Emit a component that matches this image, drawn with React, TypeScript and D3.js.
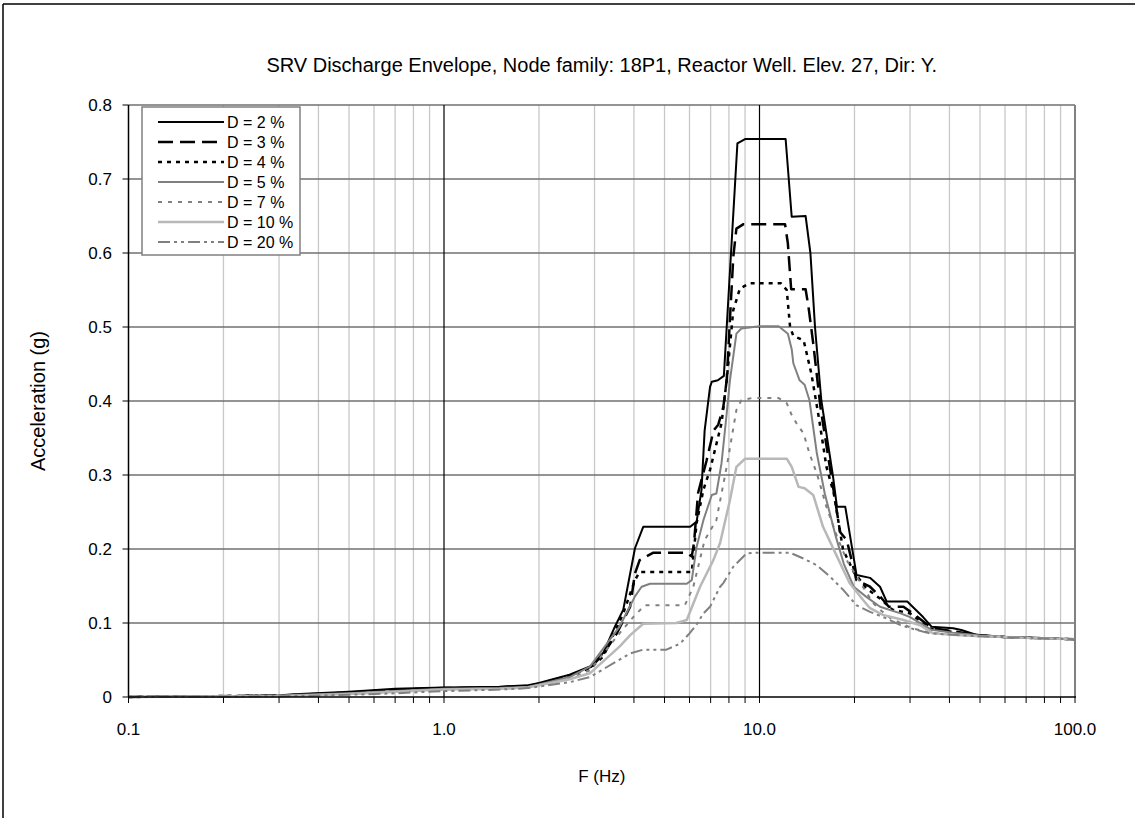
import React from "react";
import * as d3 from "d3";

type Pt = [number, number];

const titleText = "SRV Discharge Envelope, Node family: 18P1, Reactor Well. Elev. 27, Dir: Y.";
const xLabel = "F (Hz)";
const yLabel = "Acceleration (g)";
const xTickLabels: [number, string][] = [[0.1, "0.1"], [1, "1.0"], [10, "10.0"], [100, "100.0"]];
const yTicks = [0, 0.1, 0.2, 0.3, 0.4, 0.5, 0.6, 0.7, 0.8];

const d2: Pt[] = [[0.1,0],[0.2,0.001],[0.3,0.002],[0.35,0.004],[0.5,0.007],[0.7,0.011],[1.0,0.013],[1.5,0.014],[1.85,0.016],[2.0,0.019],[2.5,0.03],[2.93,0.042],[3.2,0.06],[3.48,0.095],[3.7,0.118],[4.03,0.201],[4.28,0.230],[6.03,0.230],[6.32,0.237],[6.55,0.28],[6.7,0.36],[6.97,0.419],[7.06,0.426],[7.38,0.428],[7.71,0.434],[8.51,0.748],[9.0,0.754],[12.1,0.754],[12.65,0.649],[14.0,0.65],[14.5,0.60],[15.0,0.499],[15.7,0.401],[17.1,0.298],[17.6,0.257],[18.7,0.257],[20.3,0.165],[22.4,0.161],[24.1,0.149],[25.3,0.129],[29.4,0.129],[33.0,0.108],[35.1,0.095],[41.1,0.093],[43.6,0.0905],[48.8,0.084],[59.3,0.081],[100,0.078]];
const d3s: Pt[] = [[0.1,0],[0.3,0.002],[0.5,0.006],[0.7,0.01],[1.0,0.012],[1.5,0.013],[1.85,0.015],[2.0,0.018],[2.5,0.029],[2.93,0.041],[3.2,0.058],[3.53,0.086],[3.89,0.122],[4.03,0.167],[4.17,0.185],[4.61,0.195],[5.88,0.195],[6.1,0.19],[6.2,0.208],[6.39,0.276],[6.8,0.32],[7.15,0.36],[7.4,0.368],[7.68,0.392],[7.87,0.428],[8.26,0.595],[8.45,0.633],[8.9,0.639],[12.05,0.639],[12.3,0.613],[12.6,0.551],[14.0,0.551],[14.3,0.527],[14.8,0.478],[15.6,0.392],[16.7,0.311],[17.3,0.271],[18.0,0.223],[18.9,0.212],[20.3,0.158],[22.4,0.149],[24.1,0.136],[25.7,0.122],[28.6,0.122],[30.6,0.113],[35.2,0.093],[41,0.089],[50,0.083],[60,0.081],[100,0.078]];
const d4: Pt[] = [[0.1,0],[0.3,0.002],[0.5,0.005],[0.7,0.009],[1.0,0.011],[1.5,0.012],[1.85,0.014],[2.0,0.017],[2.5,0.028],[2.93,0.040],[3.2,0.055],[3.7,0.113],[4.03,0.158],[4.17,0.169],[6.1,0.169],[6.32,0.235],[6.64,0.28],[6.97,0.307],[7.58,0.37],[7.87,0.428],[8.26,0.523],[8.67,0.552],[9.3,0.559],[11.7,0.559],[12.2,0.55],[12.5,0.50],[12.8,0.488],[13.8,0.482],[14.6,0.437],[15.4,0.379],[16.3,0.311],[17.2,0.275],[18.4,0.199],[19.9,0.169],[21.8,0.147],[24.1,0.133],[26.4,0.118],[30,0.113],[35,0.092],[41,0.088],[50,0.083],[60,0.081],[100,0.078]];
const d5: Pt[] = [[0.1,0],[0.3,0.002],[0.5,0.005],[0.7,0.008],[1.0,0.011],[1.5,0.012],[1.85,0.014],[2.0,0.017],[2.5,0.027],[2.9,0.041],[3.6,0.095],[4.03,0.136],[4.23,0.149],[4.5,0.153],[5.88,0.153],[6.1,0.158],[6.32,0.203],[6.64,0.239],[7.06,0.273],[7.3,0.275],[7.58,0.316],[7.87,0.383],[8.06,0.428],[8.45,0.491],[8.76,0.498],[10,0.501],[11.5,0.501],[12.3,0.491],[12.65,0.47],[12.8,0.451],[13.4,0.428],[13.9,0.422],[14.4,0.401],[15.2,0.329],[16.1,0.275],[17.5,0.215],[18.5,0.18],[19.9,0.149],[21.7,0.136],[24.1,0.122],[28,0.113],[30,0.108],[35,0.091],[41,0.087],[50,0.083],[60,0.081],[100,0.078]];
const d7: Pt[] = [[0.1,0],[0.3,0.001],[0.5,0.004],[0.7,0.007],[1.0,0.010],[1.5,0.011],[1.85,0.013],[2.0,0.016],[2.5,0.025],[2.9,0.036],[3.6,0.086],[3.98,0.108],[4.33,0.124],[5.8,0.124],[6.17,0.149],[6.7,0.212],[7.3,0.239],[7.87,0.311],[8.45,0.388],[8.76,0.401],[9.45,0.404],[11.5,0.404],[12.2,0.397],[12.65,0.381],[13.1,0.37],[13.8,0.356],[14.4,0.329],[15.2,0.302],[16.3,0.257],[17.6,0.217],[18.9,0.185],[20.9,0.154],[22.9,0.127],[24.1,0.118],[25.9,0.107],[30.4,0.093],[34.6,0.087],[41,0.085],[50,0.082],[60,0.081],[100,0.078]];
const d10: Pt[] = [[0.1,0],[0.3,0.001],[0.5,0.004],[0.7,0.007],[1.0,0.010],[1.5,0.011],[1.85,0.013],[2.0,0.016],[2.5,0.024],[2.9,0.032],[3.6,0.068],[3.9,0.084],[4.28,0.099],[5.45,0.1],[5.88,0.104],[6.48,0.149],[7.14,0.185],[7.5,0.208],[8.06,0.266],[8.45,0.311],[9.0,0.322],[12.2,0.322],[12.65,0.311],[13.3,0.284],[13.9,0.282],[14.8,0.273],[15.9,0.230],[17.6,0.19],[19.3,0.154],[21.3,0.131],[22.4,0.12],[24.6,0.111],[28.6,0.104],[32.3,0.097],[35.5,0.086],[41,0.084],[50,0.082],[60,0.081],[100,0.078]];
const d20: Pt[] = [[0.1,0],[0.3,0.001],[0.5,0.003],[0.7,0.005],[1.0,0.008],[1.5,0.010],[1.85,0.012],[2.0,0.014],[2.5,0.02],[2.9,0.027],[3.9,0.059],[4.28,0.064],[5.07,0.064],[5.6,0.072],[6.0,0.086],[6.3,0.097],[6.64,0.113],[6.97,0.122],[7.5,0.149],[7.68,0.154],[8.26,0.176],[9.1,0.194],[9.79,0.195],[12.5,0.195],[13.8,0.187],[15.2,0.178],[16.7,0.163],[18.4,0.145],[20.3,0.124],[22.4,0.115],[25.3,0.106],[28,0.097],[30.1,0.093],[34.6,0.086],[41,0.084],[50,0.082],[60,0.081],[100,0.078]];

const seriesNames = ["D = 2 %", "D = 3 %", "D = 4 %", "D = 5 %", "D = 7 %", "D = 10 %", "D = 20 %"];
const seriesData = [d2, d3s, d4, d5, d7, d10, d20];
const seriesStyle = [
  { color: "#000000", width: 2, dash: "" },
  { color: "#000000", width: 2.5, dash: "15,7" },
  { color: "#000000", width: 2.5, dash: "4,5" },
  { color: "#808080", width: 2, dash: "" },
  { color: "#808080", width: 2, dash: "4,6" },
  { color: "#b8b8b8", width: 2.5, dash: "" },
  { color: "#808080", width: 2, dash: "12,4,3,4,3,4" },
];

const FONT = "'Liberation Sans', Arial, sans-serif";

export default function App() {
  const W = 1135, H = 818;
  const left = 128.5, right = 1075, top = 105, bottom = 697;
  const x = d3.scaleLog().domain([0.1, 100]).range([left, right]);
  const y = d3.scaleLinear().domain([0, 0.8]).range([bottom, top]);
  const line = d3.line<Pt>().x(d => x(d[0])).y(d => y(d[1])).curve(d3.curveLinear);

  const minor: number[] = [];
  [0.1, 1, 10].forEach(dec => { for (let k = 2; k <= 9; k++) minor.push(dec * k); });
  const major = [0.1, 1, 10, 100];
  const allTicks = [...major, ...minor];

  const lgX = 142, lgY = 107, lgW = 158, lgH = 148;

  return (
    <svg width={W} height={H} style={{ position: "absolute", left: 0, top: 0, background: "#fff" }} fontFamily={FONT}>
      <rect x={0} y={0} width={W} height={H} fill="#fff" />
      <line x1={3} y1={4} x2={W} y2={4} stroke="#000" strokeWidth={1.5} />
      <line x1={3} y1={4} x2={3} y2={H} stroke="#000" strokeWidth={1.5} />

      <text x={(left + right) / 2} y={72} textAnchor="middle" fontSize={20} fill="#000">{titleText}</text>

      {minor.map(v => (
        <line key={"mv" + v} x1={x(v)} x2={x(v)} y1={top} y2={bottom} stroke="#c8c8c8" strokeWidth={1.3} />
      ))}
      {yTicks.filter(v => v > 0).map(v => (
        <line key={"hg" + v} x1={left} x2={right} y1={y(v)} y2={y(v)} stroke="#707070" strokeWidth={1.5} />
      ))}
      {[1, 10].map(v => (
        <line key={"Mv" + v} x1={x(v)} x2={x(v)} y1={top} y2={bottom} stroke="#000" strokeWidth={1.2} />
      ))}
      <line x1={right} x2={right} y1={top} y2={bottom} stroke="#808080" strokeWidth={2} />

      {seriesData.map((s, i) => (
        <path key={"s" + i} d={line(s) || ""} fill="none" stroke={seriesStyle[i].color}
          strokeWidth={seriesStyle[i].width} strokeDasharray={seriesStyle[i].dash || undefined} strokeLinejoin="round" />
      ))}

      <line x1={left} x2={right + 1} y1={bottom} y2={bottom} stroke="#000" strokeWidth={1.5} />
      <line x1={left} x2={left} y1={top} y2={bottom} stroke="#000" strokeWidth={1.5} />
      {allTicks.map(v => (
        <line key={"xt" + v} x1={x(v)} x2={x(v)} y1={bottom} y2={bottom + 6} stroke="#000" strokeWidth={1} />
      ))}
      {yTicks.map(v => (
        <line key={"yt" + v} x1={left - 6} x2={left} y1={y(v)} y2={y(v)} stroke="#000" strokeWidth={1} />
      ))}
      {yTicks.map(v => (
        <text key={"yl" + v} x={112} y={y(v) + 6} textAnchor="end" fontSize={17}>{v === 0 ? "0" : v.toFixed(1)}</text>
      ))}
      {xTickLabels.map(([v, s]) => (
        <text key={"xl" + v} x={x(v)} y={735} textAnchor="middle" fontSize={17}>{s}</text>
      ))}
      <text x={(left + right) / 2} y={782} textAnchor="middle" fontSize={17}>{xLabel}</text>
      <text transform={`translate(45,${(top + bottom) / 2}) rotate(-90)`} textAnchor="middle" fontSize={20}>{yLabel}</text>

      <rect x={lgX} y={lgY} width={lgW} height={lgH} fill="#fff" stroke="#808080" strokeWidth={1.5} />
      {seriesNames.map((n, i) => (
        <g key={"lg" + i}>
          <line x1={158} x2={224} y1={122 + i * 20} y2={122 + i * 20} stroke={seriesStyle[i].color}
            strokeWidth={seriesStyle[i].width} strokeDasharray={seriesStyle[i].dash || undefined} />
          <text x={227} y={127.5 + i * 20} fontSize={16}>{n}</text>
        </g>
      ))}
    </svg>
  );
}
